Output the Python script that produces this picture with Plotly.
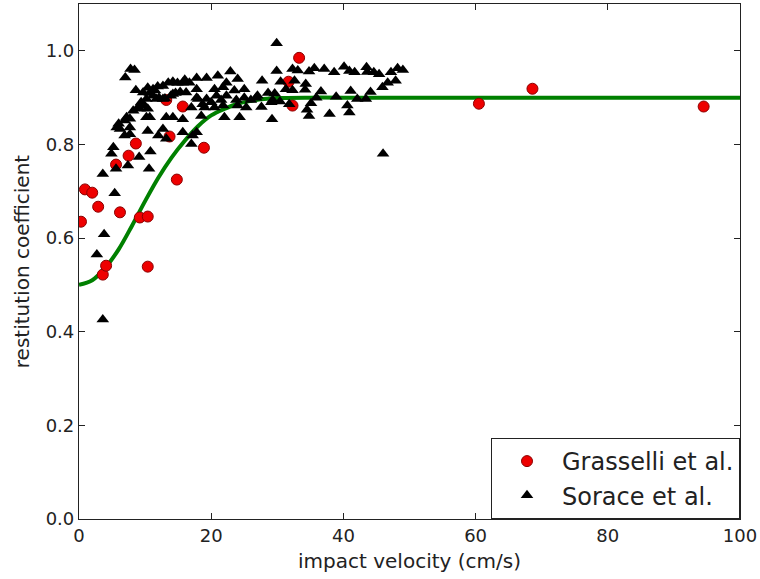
import plotly.graph_objects as go

# Grasselli et al. (red circles)
grasselli_v = [0.3, 0.9, 2.0, 2.9, 3.6, 4.1, 5.6, 6.2, 7.5, 8.6, 9.2, 10.4, 10.4,
               13.2, 13.7, 14.8, 15.7, 18.9, 31.7, 32.3, 33.3, 60.5, 68.6, 94.5]
grasselli_e = [0.635, 0.704, 0.697, 0.667, 0.522, 0.541, 0.757, 0.655, 0.776, 0.802, 0.644, 0.646, 0.539,
               0.895, 0.817, 0.725, 0.881, 0.793, 0.934, 0.883, 0.985, 0.887, 0.919, 0.881]

# Sorace et al. (black triangles)
sorace_v = [
    2.7, 3.6, 3.8, 3.6, 5.4, 5.6, 7.4, 4.9, 5.2, 5.7, 6.0, 6.2, 6.9, 7.7, 6.9, 7.2, 7.7, 7.7,
    7.0, 7.8, 8.4, 8.6, 8.2, 8.9, 9.1, 10.8, 10.6,
    9.2, 9.9, 9.4, 10.2, 10.4, 10.7, 10.2, 10.4, 12.7, 12.0, 13.2, 13.2, 14.2, 15.7, 15.7,
    12.7, 11.7,
    10.4, 11.2, 11.9, 12.7, 13.5, 14.2, 14.9, 15.7,
    9.7, 10.7, 11.5, 13.0, 13.9, 14.6, 15.3, 11.2, 12.1, 14.2, 16.2,
    16.0, 16.7, 17.8, 19.3, 21.0, 22.9, 22.3, 24.0, 27.7,
    17.8, 20.5, 21.8, 23.5, 25.0, 27.0, 28.6, 29.6,
    18.0, 18.7, 20.0, 21.5, 25.3, 27.6, 29.1,
    18.5, 22.0, 24.3, 29.2,
    17.2, 17.0, 17.8,
    17.8, 19.3, 19.0, 17.0, 20.8, 20.5, 21.8, 22.3, 23.8, 24.0, 25.0, 26.0, 26.8, 29.3,
    29.9, 29.9, 30.5, 32.6, 34.3, 31.3, 32.3, 34.2,
    36.6, 38.9, 41.1, 42.1, 43.4, 44.1,
    30.4, 31.8, 34.5, 35.1, 35.9, 40.6, 40.9, 34.8, 37.9,
    46.0,
    32.3, 33.1, 34.8, 35.6, 37.1, 38.6, 40.1, 40.9, 41.7, 43.5, 43.6, 44.6, 45.4, 47.2, 48.2, 49.0,
    45.9, 46.7, 47.9,
]
sorace_e = [
    0.565, 0.426, 0.608, 0.737, 0.696, 0.748, 0.755, 0.780, 0.794, 0.836, 0.844, 0.833, 0.819, 0.822, 0.851, 0.858, 0.836, 0.855,
    0.943, 0.961, 0.959, 0.916, 0.872, 0.879, 0.773, 0.785, 0.748,
    0.876, 0.883, 0.890, 0.897, 0.876, 0.858, 0.858, 0.829, 0.833, 0.819, 0.812, 0.858, 0.858, 0.854, 0.826,
    0.897, 0.897,
    0.921, 0.918, 0.924, 0.925, 0.932, 0.934, 0.931, 0.932,
    0.911, 0.910, 0.915, 0.898, 0.904, 0.910, 0.912, 0.904, 0.900, 0.908, 0.911,
    0.938, 0.932, 0.942, 0.942, 0.947, 0.956, 0.932, 0.940, 0.936,
    0.918, 0.918, 0.922, 0.915, 0.918, 0.904, 0.910, 0.909,
    0.897, 0.886, 0.890, 0.895, 0.879, 0.880, 0.890,
    0.861, 0.858, 0.858, 0.854,
    0.819, 0.801, 0.826,
    0.900, 0.897, 0.879, 0.879, 0.904, 0.879, 0.883, 0.904, 0.895, 0.883, 0.900, 0.895, 0.900, 0.895,
    1.016, 0.957, 0.934, 0.936, 0.929, 0.918, 0.916, 0.917,
    0.913, 0.902, 0.914, 0.897, 0.897, 0.912,
    0.892, 0.886, 0.874, 0.888, 0.900, 0.883, 0.868, 0.861, 0.865,
    0.780,
    0.961, 0.958, 0.956, 0.963, 0.961, 0.954, 0.966, 0.957, 0.954, 0.965, 0.955, 0.954, 0.950, 0.954, 0.963, 0.959,
    0.922, 0.932, 0.936,
]

# Model curve
curve_v = [0, 2, 4, 6, 8, 10, 12, 14, 16, 18, 20, 22, 24, 26, 28, 30, 35, 40, 60, 80, 100]
curve_e = [0.500, 0.510, 0.537, 0.576, 0.626, 0.679, 0.729, 0.772, 0.808, 0.839, 0.862, 0.876,
           0.887, 0.893, 0.897, 0.899, 0.900, 0.900, 0.900, 0.900, 0.900]

xticks = [0, 20, 40, 60, 80, 100]
yticks = [0.0, 0.2, 0.4, 0.6, 0.8, 1.0]

FONT = "DejaVu Sans"

fig = go.Figure()
fig.add_trace(go.Scatter(
    x=curve_v, y=curve_e, mode="lines", line=dict(color="#008000", width=4, shape="spline"),
    showlegend=False, hoverinfo="skip"))
fig.add_trace(go.Scatter(
    x=grasselli_v, y=grasselli_e, mode="markers", name="Grasselli et al.",
    marker=dict(symbol="circle", size=11, color="#ee0000", line=dict(color="#8b0000", width=1))))
fig.add_trace(go.Scatter(
    x=sorace_v, y=sorace_e, mode="markers", name="Sorace et al.",
    marker=dict(symbol="triangle-up", size=11, color="black", line=dict(color="black", width=0))))

axis_common = dict(
    showgrid=False, zeroline=False, showline=True, linecolor="#222", linewidth=1.2,
    mirror="ticks", ticks="inside", ticklen=6, tickwidth=1, tickcolor="#222",
    tickfont=dict(family=FONT, size=18, color="#222"),
)
fig.update_xaxes(range=[0, 100], tickvals=xticks, ticktext=[str(t) for t in xticks],
                 title=dict(text="impact velocity (cm/s)", font=dict(family=FONT, size=20, color="#222"), standoff=9),
                 **axis_common)
fig.update_yaxes(range=[0, 1.1], tickvals=yticks, ticktext=[f"{t:.1f}" for t in yticks],
                 title=dict(text="restitution coefficient", font=dict(family=FONT, size=20, color="#222"), standoff=10),
                 **axis_common)

fig.update_layout(
    width=760, height=579,
    margin=dict(l=79, r=18, t=3, b=60),
    paper_bgcolor="white", plot_bgcolor="white",
    font=dict(family=FONT, color="#222"),
    legend=dict(x=1, y=0, xanchor="right", yanchor="bottom", bgcolor="white",
                bordercolor="#222", borderwidth=1, font=dict(family=FONT, size=24, color="#222"),
                itemwidth=60, tracegroupgap=0),
)

fig.write_html("out.html")
